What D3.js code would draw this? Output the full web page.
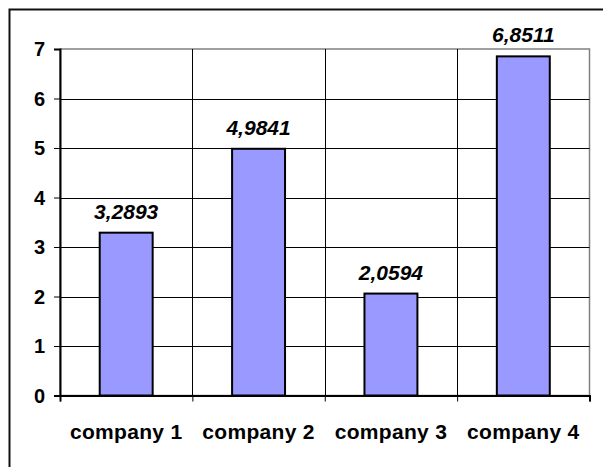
<!DOCTYPE html>
<html>
<head>
<meta charset="utf-8">
<script src="https://cdn.jsdelivr.net/npm/d3@7"></script>
<style>
  body { margin: 0; background: #fff; }
  text { font-family: Arial, "Liberation Sans", sans-serif; font-weight: bold; }
</style>
</head>
<body>
<script>
const categories = ["company 1", "company 2", "company 3", "company 4"];
const values = [3.2893, 4.9841, 2.0594, 6.8511];
const yTicks = [0, 1, 2, 3, 4, 5, 6, 7];

const W = 603, H = 467;
const margin = { top: 49, right: 13.5, bottom: 71.5, left: 60 };
const width = W - margin.left - margin.right;
const height = H - margin.top - margin.bottom;

const fmt = d3.formatLocale({ decimal: ",", thousands: ".", grouping: [3], currency: ["", ""] }).format(".4f");

const svg = d3.select("body").append("svg")
  .attr("width", W)
  .attr("height", H);

// outer chart-area border (runs off the right and bottom edge)
svg.append("rect")
  .attr("x", 9.5).attr("y", 9.5)
  .attr("width", 620).attr("height", 490)
  .attr("fill", "none")
  .attr("stroke", "#111")
  .attr("stroke-width", 2);

const g = svg.append("g").attr("transform", `translate(${margin.left},${margin.top})`);

const x = d3.scaleBand().domain(categories).range([0, width]).padding(0);
const y = d3.scaleLinear().domain([0, 7]).range([height, 0]);

// plot border (grey)
g.append("rect")
  .attr("x", 0).attr("y", 0)
  .attr("width", width).attr("height", height)
  .attr("fill", "none")
  .attr("stroke", "#808080")
  .attr("stroke-width", 1.5);

// horizontal grid
g.append("g")
  .selectAll("line")
  .data(yTicks.filter(d => d > 0 && d < 7))
  .join("line")
  .attr("x1", 0).attr("x2", width)
  .attr("y1", d => Math.round(y(d)) + 0.5)
  .attr("y2", d => Math.round(y(d)) + 0.5)
  .attr("stroke", "#000");

// vertical grid at category boundaries
g.append("g")
  .selectAll("line")
  .data(categories.slice(1))
  .join("line")
  .attr("x1", d => Math.round(x(d)) + 0.5)
  .attr("x2", d => Math.round(x(d)) + 0.5)
  .attr("y1", 0).attr("y2", height)
  .attr("stroke", "#000");

// bars
const barW = x.bandwidth() * 0.4;
g.append("g")
  .selectAll("rect")
  .data(values)
  .join("rect")
  .attr("x", (d, i) => x(categories[i]) + x.bandwidth() / 2 - barW / 2)
  .attr("y", d => y(d))
  .attr("width", barW)
  .attr("height", d => y(0) - y(d))
  .attr("fill", "#9999ff")
  .attr("stroke", "#000")
  .attr("stroke-width", 2);

// value labels
g.append("g")
  .selectAll("text")
  .data(values)
  .join("text")
  .attr("x", (d, i) => x(categories[i]) + x.bandwidth() / 2)
  .attr("y", d => y(d) - 14)
  .attr("text-anchor", "middle")
  .style("font-size", "21px")
  .style("font-style", "italic")
  .text(d => fmt(d));

// y axis (line + ticks from d3, labels drawn separately)
const yAxis = g.append("g")
  .call(d3.axisLeft(y).tickValues(yTicks).tickSize(6).tickFormat(""));
yAxis.select(".domain").attr("stroke", "#000").attr("stroke-width", 2);
yAxis.selectAll(".tick line").attr("stroke", "#000");

g.append("g")
  .selectAll("text")
  .data(yTicks)
  .join("text")
  .attr("x", -15)
  .attr("y", d => y(d))
  .attr("dy", "0.36em")
  .attr("text-anchor", "end")
  .style("font-size", "20px")
  .text(d => d);

// x axis
const xTickPos = d3.scaleLinear().domain([0, categories.length]).range([0, width]);
const xAxis = g.append("g")
  .attr("transform", `translate(0,${height})`)
  .call(d3.axisBottom(xTickPos).ticks(categories.length).tickSize(6).tickFormat(""));
xAxis.select(".domain").attr("stroke", "#000").attr("stroke-width", 2);
xAxis.selectAll(".tick line").attr("stroke", "#000");

g.append("g")
  .selectAll("text")
  .data(categories)
  .join("text")
  .attr("x", d => x(d) + x.bandwidth() / 2)
  .attr("y", height + 43)
  .attr("text-anchor", "middle")
  .style("font-size", "21px")
  .style("letter-spacing", "0.3px")
  .text(d => d);
</script>
</body>
</html>
